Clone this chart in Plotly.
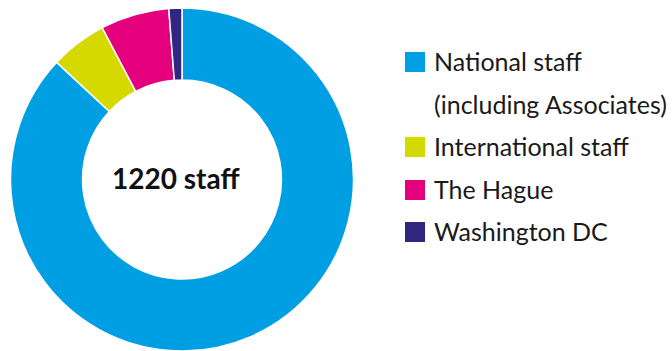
import plotly.graph_objects as go

W, H = 672, 351

labels = ["National staff", "International staff", "The Hague", "Washington DC"]
legend_text = ["National staff", "International staff", "The Hague", "Washington DC"]
values = [1061, 65, 79, 15]
colors = ["#009FE3", "#D5D900", "#E5007D", "#302681"]
center_label = "1220 staff"

fig = go.Figure()
fig.add_trace(go.Pie(
    labels=labels,
    values=values,
    sort=False,
    direction="clockwise",
    rotation=0,
    hole=0.58,
    textinfo="none",
    hoverinfo="label+value",
    marker=dict(colors=colors, line=dict(color="white", width=1.5)),
    domain=dict(x=[10 / W, 354 / W], y=[0, 343 / H]),
    showlegend=False,
))

# center label
fig.add_annotation(
    x=176 / W, y=1 - 178 / H, xref="paper", yref="paper",
    text="<b>" + center_label + "</b>", showarrow=False,
    xanchor="center", yanchor="middle",
    font=dict(family="Lato", size=28, color="#111111"),
)

# custom legend
rows = [62, 147, 190, 232]
sq = 20
for i, (lab, col) in enumerate(zip(legend_text, colors)):
    cy = rows[i]
    fig.add_shape(type="rect", xref="paper", yref="paper",
                  x0=405 / W, x1=(405 + sq) / W,
                  y0=1 - (cy + sq / 2) / H, y1=1 - (cy - sq / 2) / H,
                  fillcolor=col, line=dict(width=0))
    fig.add_annotation(
        x=432 / W, y=1 - (cy - 1) / H, xref="paper", yref="paper",
        text=lab, showarrow=False, xanchor="left", yanchor="middle",
        font=dict(family="Lato", size=25, color="#1a1a1a"),
    )
fig.add_annotation(
    x=432 / W, y=1 - 104 / H, xref="paper", yref="paper",
    text="(including Associates)", showarrow=False, xanchor="left", yanchor="middle",
    font=dict(family="Lato", size=25, color="#1a1a1a"),
)

fig.update_layout(
    width=W, height=H,
    margin=dict(l=0, r=0, t=0, b=0),
    paper_bgcolor="white", plot_bgcolor="white",
)

fig.write_html("out.html")
